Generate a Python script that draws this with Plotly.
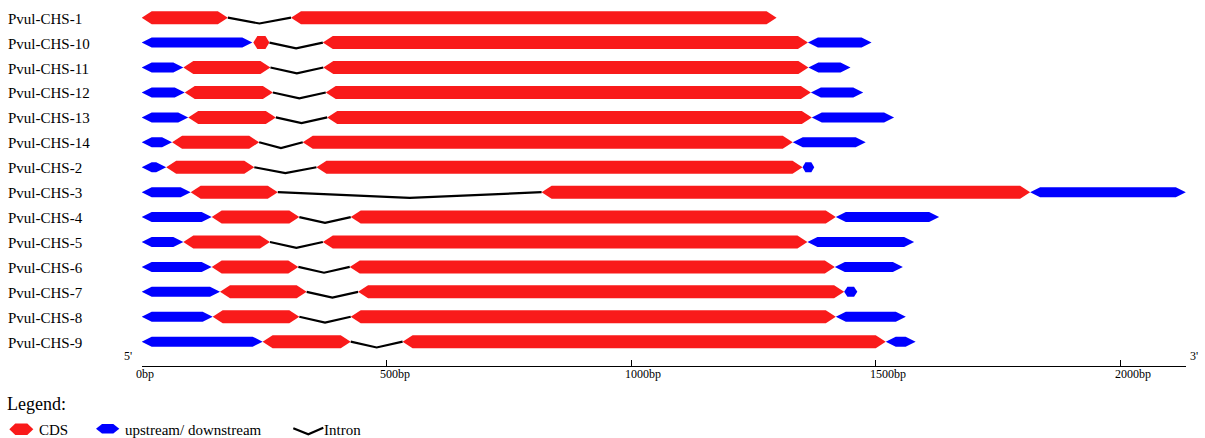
import plotly.graph_objects as go

# ---------------- data (bp) ----------------
genes = ["Pvul-CHS-1", "Pvul-CHS-10", "Pvul-CHS-11", "Pvul-CHS-12", "Pvul-CHS-13",
         "Pvul-CHS-14", "Pvul-CHS-2", "Pvul-CHS-3", "Pvul-CHS-4", "Pvul-CHS-5",
         "Pvul-CHS-6", "Pvul-CHS-7", "Pvul-CHS-8", "Pvul-CHS-9"]

upstream = [None, (0, 226), (0, 85), (0, 88), (0, 95), (0, 62), (0, 50), (0, 100),
            (0, 143), (0, 85), (0, 143), (0, 160), (0, 145), (0, 247)]

cds = [
    [(0, 176), (305, 1297)],
    [(228, 261), (370, 1361)],
    [(85, 263), (371, 1362)],
    [(88, 268), (376, 1367)],
    [(95, 274), (379, 1369)],
    [(62, 240), (329, 1330)],
    [(50, 230), (357, 1350)],
    [(100, 278), (817, 1815)],
    [(143, 322), (427, 1418)],
    [(85, 262), (370, 1360)],
    [(143, 320), (425, 1416)],
    [(160, 337), (442, 1435)],
    [(145, 322), (427, 1418)],
    [(247, 427), (533, 1520)],
]

downstream = [None, (1361, 1491), (1362, 1448), (1367, 1474), (1369, 1537), (1330, 1479),
              (1350, 1374), (1815, 2133), (1418, 1629), (1360, 1578), (1416, 1555),
              (1435, 1462), (1418, 1561), (1520, 1581)]

tick_vals = [0, 500, 1000, 1500, 2000]
tick_text = ["0bp", "500bp", "1000bp", "1500bp", "2000bp"]
axis_max = 2133.4

# ---------------- geometry / style ----------------
W, H = 1205, 438
X0_PX, X1_PX = 141.7, 1186.0
PX_PER_BP = (X1_PX - X0_PX) / axis_max
ROW0_PX, ROW_STEP = 17.7, 24.92
Y_TOP = -ROW0_PX / ROW_STEP
Y_BOT = (H - ROW0_PX) / ROW_STEP
RED = "#F91A1A"
BLUE = "#0000FF"
FONT = "Liberation Serif"


def hexagon(s, e, yc, half_px):
    L = (e - s) * PX_PER_BP
    tp = min(10.0, L / 2.0) if L >= 18 else L * 0.25
    t = tp / PX_PER_BP
    h = half_px / ROW_STEP
    xs = [s, s + t, e - t, e, e - t, s + t, s]
    ys = [yc, yc - h, yc - h, yc, yc + h, yc + h, yc]
    return xs, ys


fig = go.Figure()

for i, g in enumerate(genes):
    ex = cds[i]
    for a, b in zip(ex[:-1], ex[1:]):
        s, e = a[1], b[0]
        fig.add_trace(go.Scatter(x=[s, (s + e) / 2, e], y=[i, i + 5.8 / ROW_STEP, i],
                                 mode="lines", line=dict(color="black", width=2.2),
                                 hoverinfo="skip", showlegend=False))
    for seg in (upstream[i], downstream[i]):
        if seg is not None:
            xs, ys = hexagon(seg[0], seg[1], i, 5.0)
            fig.add_trace(go.Scatter(x=xs, y=ys, fill="toself", fillcolor=BLUE,
                                     mode="lines", line=dict(width=0, color=BLUE),
                                     hoverinfo="skip", showlegend=False))
    for seg in ex:
        xs, ys = hexagon(seg[0], seg[1], i, 6.5)
        fig.add_trace(go.Scatter(x=xs, y=ys, fill="toself", fillcolor=RED,
                                 mode="lines", line=dict(width=0, color=RED),
                                 hoverinfo="skip", showlegend=False))

annotations = []
for i, g in enumerate(genes):
    annotations.append(dict(text=g, xref="paper", yref="y", x=6 / W, y=i, xanchor="left",
                            yanchor="middle", showarrow=False, yshift=-1,
                            font=dict(family=FONT, size=15, color="#000000")))

AXIS_Y_PX = 365.7
for v, t in zip(tick_vals, tick_text):
    annotations.append(dict(text=t, xref="x", yref="paper", x=v, y=1 - 373.5 / H,
                            xanchor="left", yanchor="middle", xshift=-8, showarrow=False,
                            font=dict(family=FONT, size=12, color="#000000")))

def ptxt(text, px, py, size):
    annotations.append(dict(text=text, xref="paper", yref="paper", x=px / W, y=1 - py / H,
                            xanchor="left", yanchor="middle", showarrow=False,
                            font=dict(family=FONT, size=size, color="#000000")))

ptxt("5'", 122, 356, 12)
ptxt("3'", 1188, 356, 12)
ptxt("Legend:", 5, 404, 18)
ptxt("CDS", 37, 430, 15)
ptxt("upstream/ downstream", 123, 430, 15)
ptxt("Intron", 322, 430, 15)


def ppath(pts):
    return "M " + " L ".join(f"{x / W},{1 - y / H}" for x, y in pts) + " Z"

def hexpts(x0, x1, yc, hh, t):
    return [(x0, yc), (x0 + t, yc - hh), (x1 - t, yc - hh), (x1, yc),
            (x1 - t, yc + hh), (x0 + t, yc + hh)]

shapes = [
    dict(type="path", xref="paper", yref="paper", path=ppath(hexpts(9.3, 33.3, 429.2, 5.8, 6)),
         fillcolor=RED, line=dict(width=0)),
    dict(type="path", xref="paper", yref="paper", path=ppath(hexpts(96, 119.3, 428.7, 4.7, 6)),
         fillcolor=BLUE, line=dict(width=0)),
    dict(type="path", xref="paper", yref="paper",
         path=f"M {293.3 / W},{1 - 428.3 / H} L {308.3 / W},{1 - 434.3 / H} L {323.3 / W},{1 - 427.7 / H}",
         line=dict(color="black", width=2.2)),
]

fig.update_layout(
    width=W, height=H, margin=dict(l=0, r=0, t=0, b=0),
    paper_bgcolor="white", plot_bgcolor="white",
    showlegend=False,
    font=dict(family=FONT, color="#000000"),
    xaxis=dict(domain=[X0_PX / W, X1_PX / W], range=[0, axis_max], anchor="free",
               position=1 - AXIS_Y_PX / H, showline=True, linecolor="black", linewidth=1.3,
               ticks="inside", ticklen=6, tickwidth=1.3, tickcolor="black",
               tickvals=tick_vals, showticklabels=False, showgrid=False, zeroline=False,
               fixedrange=True),
    yaxis=dict(domain=[0, 1], range=[Y_BOT, Y_TOP], visible=False, fixedrange=True),
    annotations=annotations,
    shapes=shapes,
)

fig.write_html("out.html")
